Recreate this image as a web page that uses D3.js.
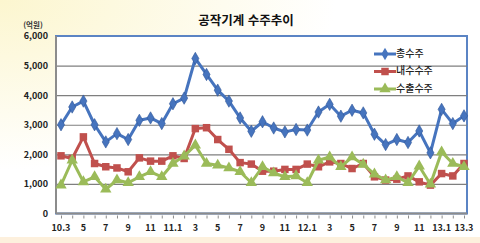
<!DOCTYPE html>
<html lang="ko">
  <head>
    <meta charset="UTF-8" />
    <title>공작기계 수주추이</title>
    <script src="https://d3js.org/d3.v7.min.js"></script>
    <style>
      body {
        margin: 0;
        font-family: "Noto Sans CJK KR", sans-serif;
      }
      .grid line {
        stroke: #7f7f7f;
        stroke-width: 1.2;
      }
      .grid .domain {
        stroke: none;
      }
      .line {
        fill: none;
        stroke-width: 3;
        stroke-linejoin: round;
      }
    </style>
  </head>
  <body>
    <svg width="480" height="243" id="chart"></svg>
    <script>
      // 10.3 ~ 13.3, monthly
      const months = [
        "10.3", "10.4", "10.5", "10.6", "10.7", "10.8", "10.9", "10.10", "10.11", "10.12",
        "11.1", "11.2", "11.3", "11.4", "11.5", "11.6", "11.7", "11.8", "11.9", "11.10",
        "11.11", "11.12", "12.1", "12.2", "12.3", "12.4", "12.5", "12.6", "12.7", "12.8",
        "12.9", "12.10", "12.11", "12.12", "13.1", "13.2", "13.3",
      ];
      // labels printed under every second month
      const tickLabels = [
        "10.3", "5", "7", "9", "11", "11.1", "3", "5", "7", "9",
        "11", "12.1", "3", "5", "7", "9", "11", "13.1", "13.3",
      ];
      const yTicks = [0, 1000, 2000, 3000, 4000, 5000, 6000];

      const total = [
        3000, 3600, 3800, 3000, 2420, 2700, 2500, 3150, 3230, 3040,
        3710, 3900, 5240, 4700, 4170, 3800, 3230, 2780, 3100, 2890,
        2760, 2840, 2820, 3430, 3690, 3290, 3490, 3400, 2680, 2330,
        2500, 2400, 2790, 2050, 3520, 3040, 3300,
      ];
      const domestic = [
        1950, 1860, 2590, 1690, 1580, 1540, 1410, 1880, 1770, 1770,
        1950, 1860, 2870, 2900, 2500, 2170, 1720, 1670, 1430, 1430,
        1490, 1490, 1670, 1580, 1745, 1690, 1520, 1690, 1240, 1130,
        1160, 1270, 1070, 960, 1350, 1270, 1690,
      ];
      const exports = [
        960, 1800, 1070, 1240, 820, 1130, 1040, 1240, 1410, 1240,
        1690, 1940, 2310, 1690, 1630, 1540, 1410, 1040, 1580, 1370,
        1240, 1270, 1040, 1800, 1910, 1580, 1910, 1660, 1330, 1130,
        1240, 1040, 1600, 990, 2080, 1690, 1580,
      ];

      const series = [
        { name: "총수주", values: total, color: "#4674be", symbol: d3.symbolDiamond, size: 44 },
        { name: "내수수주", values: domestic, color: "#c0504d", symbol: d3.symbolSquare, size: 56 },
        { name: "수출수주", values: exports, color: "#9bbb59", symbol: d3.symbolTriangle, size: 56 },
      ];

      const svg = d3.select("#chart");
      const width = +svg.attr("width");
      const height = +svg.attr("height");

      // background: pale yellow glow top-left, peach strip at bottom
      const defs = svg.append("defs");
      const bg = defs
        .append("radialGradient")
        .attr("id", "bg")
        .attr("cx", "0%")
        .attr("cy", "0%")
        .attr("r", "70%");
      bg.append("stop").attr("offset", "0%").attr("stop-color", "#fcf6cf");
      bg.append("stop").attr("offset", "100%").attr("stop-color", "#ffffff");
      svg.append("rect").attr("width", width).attr("height", height).attr("fill", "#fff");
      svg.append("rect").attr("width", width).attr("height", height).attr("fill", "url(#bg)");
      svg
        .append("rect")
        .attr("y", 237)
        .attr("width", width)
        .attr("height", height - 237)
        .attr("fill", "#fdf0dd");

      const plot = { left: 56, right: 467, top: 36, bottom: 213.5 };

      const x = d3.scalePoint().domain(months).range([61, 464]);
      const y = d3.scaleLinear().domain([0, 6000]).range([plot.bottom, plot.top]);

      // plot area
      svg
        .append("rect")
        .attr("x", plot.left)
        .attr("y", plot.top)
        .attr("width", plot.right - plot.left)
        .attr("height", plot.bottom - plot.top)
        .attr("fill", "#fff")
        .attr("stroke", "#5b84c4")
        .attr("stroke-width", 2);

      svg
        .append("g")
        .attr("class", "grid")
        .attr("transform", `translate(${plot.left},0)`)
        .call(
          d3
            .axisLeft(y)
            .tickValues(yTicks.slice(1, -1))
            .tickSize(-(plot.right - plot.left))
            .tickFormat("")
        );

      // axis lines
      svg
        .append("line")
        .attr("x1", plot.left)
        .attr("x2", plot.left)
        .attr("y1", plot.top)
        .attr("y2", plot.bottom)
        .attr("stroke", "#8c8c8c")
        .attr("stroke-width", 2);
      svg
        .append("line")
        .attr("x1", plot.left)
        .attr("x2", plot.right)
        .attr("y1", plot.bottom)
        .attr("y2", plot.bottom)
        .attr("stroke", "#8c8c8c")
        .attr("stroke-width", 2);

      // y axis labels
      const yAxis = svg
        .append("g")
        .attr("transform", `translate(${plot.left},0)`)
        .call(
          d3
            .axisLeft(y)
            .tickValues(yTicks)
            .tickSize(0)
            .tickPadding(8)
            .tickFormat(d3.format(","))
        );
      yAxis.select(".domain").remove();
      yAxis
        .selectAll("text")
        .attr("font-family", "Noto Sans CJK KR")
        .attr("font-size", 9)
        .attr("font-weight", "bold")
        .attr("fill", "#222");

      // x axis: small ticks at every month, labels every second month
      const xAxis = svg
        .append("g")
        .attr("transform", `translate(0,${plot.bottom + 2})`)
        .call(d3.axisBottom(x).tickSize(3).tickFormat(""));
      xAxis.select(".domain").remove();
      xAxis.selectAll("line").attr("stroke", "#8c8c8c");

      svg
        .append("g")
        .selectAll("text")
        .data(tickLabels)
        .join("text")
        .attr("x", (d, i) => x(months[i * 2]))
        .attr("y", 231)
        .attr("text-anchor", "middle")
        .attr("font-size", 9)
        .attr("font-weight", "bold")
        .attr("fill", "#222")
        .text((d) => d);

      // unit & title
      svg
        .append("text")
        .attr("x", 33)
        .attr("y", 28)
        .attr("text-anchor", "middle")
        .attr("font-size", 7.5)
        .attr("font-weight", "bold")
        .attr("fill", "#333")
        .text("(억원)");

      svg
        .append("text")
        .attr("x", 246)
        .attr("y", 25)
        .attr("text-anchor", "middle")
        .attr("font-size", 12.5)
        .attr("font-weight", "bold")
        .attr("fill", "#111")
        .text("공작기계 수주추이");

      // lines & markers
      const lineGen = d3
        .line()
        .x((d, i) => x(months[i]))
        .y((d) => y(d));

      series.forEach((s) => {
        svg
          .append("path")
          .datum(s.values)
          .attr("class", "line")
          .attr("stroke", s.color)
          .attr("d", lineGen);

        svg
          .append("g")
          .selectAll("path")
          .data(s.values)
          .join("path")
          .attr("transform", (d, i) => `translate(${x(months[i])},${y(d)})`)
          .attr("d", d3.symbol().type(s.symbol).size(s.size))
          .attr("fill", s.color)
          .attr("stroke", s.symbol === d3.symbolDiamond ? "#2f5597" : "none")
          .attr("stroke-width", 0.6);
      });

      // legend
      series.forEach((s, i) => {
        const ly = 54 + i * 17.5;
        svg
          .append("line")
          .attr("x1", 374)
          .attr("x2", 396)
          .attr("y1", ly)
          .attr("y2", ly)
          .attr("stroke", s.color)
          .attr("stroke-width", 3);
        svg
          .append("path")
          .attr("transform", `translate(385,${ly})`)
          .attr("d", d3.symbol().type(s.symbol).size(s.size))
          .attr("fill", s.color);
        svg
          .append("text")
          .attr("x", 396)
          .attr("y", ly)
          .attr("dominant-baseline", "middle")
          .attr("font-size", 10)
          .attr("font-weight", 500)
          .attr("fill", "#222")
          .text(s.name);
      });
    </script>
  </body>
</html>
